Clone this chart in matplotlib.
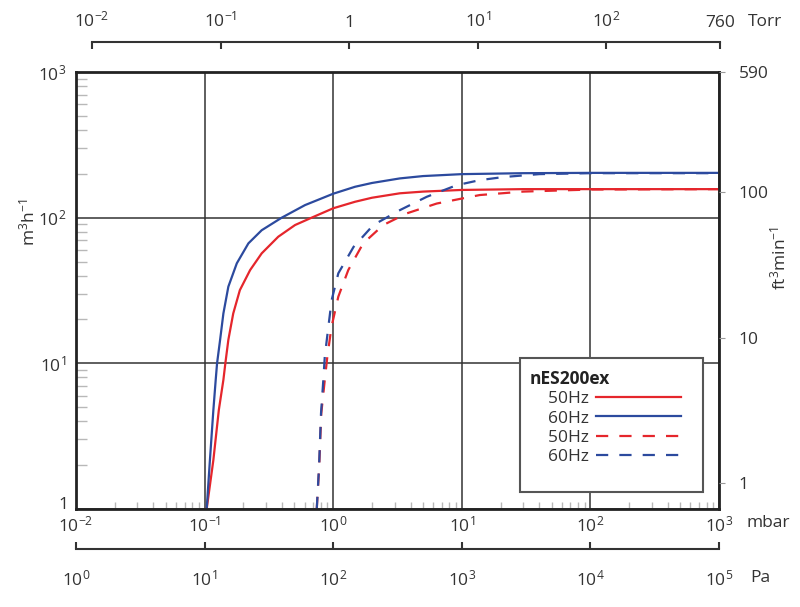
import numpy as np
import matplotlib
matplotlib.use("Agg")
import matplotlib.pyplot as plt
from matplotlib.patches import Rectangle
from matplotlib.ticker import FixedLocator, LogLocator, NullFormatter

plt.rcParams['font.family'] = ['Open Sans', 'DejaVu Sans']
plt.rcParams['mathtext.fontset'] = 'custom'
plt.rcParams['mathtext.rm'] = 'Open Sans'
plt.rcParams['mathtext.it'] = 'Open Sans:italic'
plt.rcParams['mathtext.bf'] = 'Open Sans:bold'

# pumping speed curves, pressure in mbar, speed in m3/h
red_solid_p = [0.1038, 0.117, 0.129, 0.140, 0.145, 0.153, 0.167, 0.188, 0.226, 0.278, 0.374, 0.505,
               0.68, 1.0, 1.48, 2.0, 3.3, 5.0, 10, 30, 100, 1000]
red_solid_s = [1, 2.17, 4.78, 7.7, 10, 14.5, 22, 31.8, 43.7, 56.9, 74, 89,
               100, 116, 128.6, 137, 147, 151, 155, 157, 157, 157]

blue_solid_p = [0.1038, 0.110, 0.117, 0.122, 0.125, 0.132, 0.140, 0.153, 0.178, 0.219, 0.278, 0.398,
                0.604, 1.0, 1.48, 2.0, 3.3, 5.0, 10, 30, 100, 1000]
blue_solid_s = [1, 2.17, 4.78, 7.7, 10, 14.5, 22, 33.6, 48.6, 66.6, 82, 100,
                122, 146, 163, 173, 186, 193, 199, 202, 203, 203]

red_dash_p = [0.745, 0.778, 0.808, 0.86, 0.90, 0.97, 1.096, 1.31, 1.71, 2.45, 3.73, 6.38,
              10.3, 13.8, 30, 100, 1000]
red_dash_s = [1, 1.95, 4.54, 7.7, 11.1, 17.8, 28.7, 43.7, 66.6, 89, 107, 125,
              136, 143, 151, 156, 157]

blue_dash_p = [0.745, 0.776, 0.804, 0.838, 0.86, 0.917, 0.973, 1.096, 1.44, 2.05, 3.31, 5.33,
               9.1, 13.8, 21, 40, 100, 1000]
blue_dash_s = [1, 1.95, 4.54, 7.7, 11.1, 17.8, 27.2, 41.5, 63, 89, 112.8, 139,
               167, 181, 190, 199, 202, 202]

RED = '#e5262c'
BLUE = '#2c4a9e'

mbar_ticks = [1e-2, 1e-1, 1e0, 1e1, 1e2, 1e3]
mbar_labels = [r'$10^{-2}$', r'$10^{-1}$', r'$10^{0}$', r'$10^{1}$', r'$10^{2}$', r'$10^{3}$']
torr_ticks = [1e-2, 1e-1, 1, 10, 100, 760]
torr_labels = [r'$10^{-2}$', r'$10^{-1}$', '1', r'$10^{1}$', r'$10^{2}$', '760']
pa_ticks = [1e0, 1e1, 1e2, 1e3, 1e4, 1e5]
pa_labels = [r'$10^{0}$', r'$10^{1}$', r'$10^{2}$', r'$10^{3}$', r'$10^{4}$', r'$10^{5}$']
m3h_ticks = [1, 10, 100, 1000]
m3h_labels = ['1', r'$10^{1}$', r'$10^{2}$', r'$10^{3}$']
cfm_pos = [1.5, 15, 150, 1000]
cfm_labels = ['1', '10', '100', '590']

FS = 12.5
TXT = '#333333'
W, H = 800, 607
fig = plt.figure(figsize=(8, 6.07), dpi=100)

L, R, T, B = 76, 719, 72, 509
ax = fig.add_axes([L / W, 1 - B / H, (R - L) / W, (B - T) / H])
ax.set_xscale('log')
ax.set_yscale('log')
ax.set_xlim(1e-2, 1e3)
ax.set_ylim(1, 1e3)

ax.plot(red_solid_p, red_solid_s, color=RED, lw=1.6, label='50Hz')
ax.plot(blue_solid_p, blue_solid_s, color=BLUE, lw=1.6, label='60Hz')
ax.plot(red_dash_p, red_dash_s, color=RED, lw=1.6, dashes=(5.5, 5), label='50Hz')
ax.plot(blue_dash_p, blue_dash_s, color=BLUE, lw=1.6, dashes=(5.5, 5), label='60Hz')

ax.xaxis.set_major_locator(FixedLocator(mbar_ticks))
ax.set_xticklabels(mbar_labels)
ax.yaxis.set_major_locator(FixedLocator(m3h_ticks))
# the bottom "1" sits a little higher than the other labels, drawn separately
ax.set_yticklabels([''] + m3h_labels[1:])
ax.annotate(m3h_labels[0], xy=(0, m3h_ticks[0]), xycoords=('axes fraction', 'data'),
            xytext=(-5.5, 3), textcoords='offset points', ha='right', va='center',
            fontsize=FS, color=TXT)
ax.xaxis.set_minor_locator(LogLocator(base=10, subs=np.arange(2, 10)))
ax.yaxis.set_minor_locator(LogLocator(base=10, subs=np.arange(2, 10)))
ax.xaxis.set_minor_formatter(NullFormatter())
ax.yaxis.set_minor_formatter(NullFormatter())
ax.tick_params(which='major', length=0, labelsize=FS, colors=TXT)
ax.tick_params(axis='x', which='major', pad=5)
ax.tick_params(axis='y', which='major', pad=7)
ax.tick_params(which='minor', direction='in', color='#b8b8b8', width=1)
ax.tick_params(axis='x', which='minor', length=5, top=False)
ax.tick_params(axis='y', which='minor', length=8, right=False)
ax.grid(which='major', color='#333333', lw=1.1)
for s in ax.spines.values():
    s.set_linewidth(2)
    s.set_color('#222222')

# right axis in ft3/min
ax2 = ax.twinx()
ax2.set_yscale('log')
ax2.set_ylim(ax.get_ylim())
ax2.yaxis.set_major_locator(FixedLocator(cfm_pos))
ax2.set_yticklabels(cfm_labels)
ax2.yaxis.set_minor_locator(FixedLocator([]))
ax2.tick_params(axis='y', length=4, color='#999999', labelsize=FS, labelcolor=TXT, pad=10)
for s in ax2.spines.values():
    s.set_visible(False)

# top Torr scale
f0 = (np.log10(0.01 * 1.33322) + 2) / 5
f1 = (np.log10(760 * 1.33322) + 2) / 5
axw = (R - L) / W
ax_t = fig.add_axes([L / W + axw * f0, 1 - 42 / H, axw * (f1 - f0), 0.0001])
ax_t.set_xscale('log')
ax_t.set_xlim(0.01, 760)
ax_t.patch.set_visible(False)
for k in ['bottom', 'left', 'right']:
    ax_t.spines[k].set_visible(False)
ax_t.spines['top'].set_linewidth(1.5)
ax_t.spines['top'].set_color('#333333')
ax_t.set_yticks([])
ax_t.xaxis.tick_top()
ax_t.xaxis.set_major_locator(FixedLocator(torr_ticks))
ax_t.set_xticklabels(torr_labels)
ax_t.xaxis.set_minor_locator(FixedLocator([]))
ax_t.tick_params(axis='x', direction='in', length=5, width=1.5, color='#333333',
                 labelsize=FS, labelcolor=TXT, pad=8)

# bottom Pa scale
ax_p = fig.add_axes([L / W, 1 - 549 / H, axw, 0.0001])
ax_p.set_xscale('log')
ax_p.set_xlim(1, 1e5)
ax_p.patch.set_visible(False)
for k in ['top', 'left', 'right']:
    ax_p.spines[k].set_visible(False)
ax_p.spines['bottom'].set_linewidth(1.5)
ax_p.spines['bottom'].set_color('#333333')
ax_p.set_yticks([])
ax_p.xaxis.set_major_locator(FixedLocator(pa_ticks))
ax_p.set_xticklabels(pa_labels)
ax_p.xaxis.set_minor_locator(FixedLocator([]))
ax_p.tick_params(axis='x', direction='in', length=5, width=1.5, color='#333333',
                 labelsize=FS, labelcolor=TXT, pad=15)

# unit labels
fig.text(765 / W, 1 - 22 / H, 'Torr', fontsize=FS, color=TXT, ha='center', va='center')
fig.text(768 / W, 1 - 523 / H, 'mbar', fontsize=FS, color=TXT, ha='center', va='center')
fig.text(760 / W, 1 - 578 / H, 'Pa', fontsize=FS, color=TXT, ha='center', va='center')
fig.text(28 / W, 1 - 222 / H, r'm$^{3}$h$^{-1}$', fontsize=FS, color=TXT,
         rotation=90, ha='center', va='center')
fig.text(779 / W, 1 - 258 / H, r'ft$^{3}$min$^{-1}$', fontsize=FS, color=TXT,
         rotation=90, ha='center', va='center')

# legend box
box = Rectangle((444 / 643, 17 / 437), 183 / 643, 134 / 437, transform=ax.transAxes,
                facecolor='white', edgecolor='#555555', lw=1.5, zorder=8)
ax.add_patch(box)
handles, labels = ax.get_legend_handles_labels()
leg = ax.legend(handles, ['    ' + s for s in labels], loc='upper left',
                bbox_to_anchor=(454 / 643, 139 / 437), title='nES200ex',
                markerfirst=False, handlelength=4.9, handletextpad=0.4, fontsize=FS,
                alignment='left', frameon=False, borderpad=0, borderaxespad=0,
                labelspacing=0.18)
leg.get_title().set_fontweight('bold')
leg.get_title().set_fontsize(FS)
leg.get_title().set_color('#222222')
leg.set_zorder(10)
for t in leg.get_texts():
    t.set_color(TXT)

fig.savefig('out.png', dpi=100)
